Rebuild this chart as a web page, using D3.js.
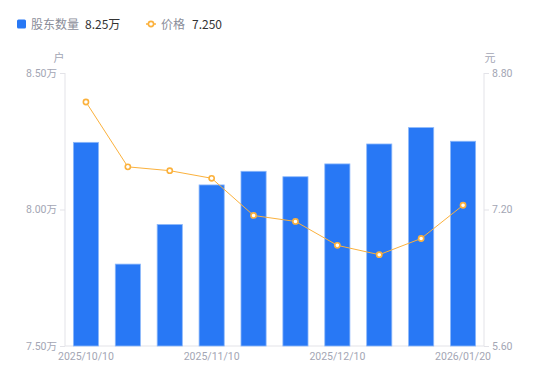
<!DOCTYPE html>
<html><head><meta charset="utf-8">
<script src="https://cdn.jsdelivr.net/npm/d3@7"></script>
<style>body{margin:0;background:#fff;}svg{display:block;font-family:"Noto Sans CJK SC","Noto Sans",sans-serif;}</style>
</head><body><svg id="c" width="550" height="381"></svg>
<script>
const categories = ["2025/10/10","2025/10/20","2025/10/31","2025/11/10","2025/11/20","2025/11/30","2025/12/10","2025/12/20","2025/12/31","2026/01/20"];
const holders = [8.246, 7.80, 7.945, 8.09, 8.14, 8.12, 8.167, 8.24, 8.30, 8.25];
const prices = [8.46, 7.70, 7.655, 7.566, 7.13, 7.06, 6.78, 6.67, 6.86, 7.25];
const leftTicks = [7.5, 8.0, 8.5];
const rightTicks = [5.6, 7.2, 8.8];
const xTickLabels = ["2025/10/10","2025/11/10","2025/12/10","2026/01/20"];

const svg = d3.select("#c");
const L = 65, R = 484, T = 73, B = 346;
const x = d3.scaleBand().domain(categories).range([L, R]).paddingInner(0.4).paddingOuter(0.2);
const yL = d3.scaleLinear().domain([7.5, 8.5]).range([B, T]);
const yR = d3.scaleLinear().domain([5.6, 8.8]).range([B, T]);
const gray = "#a3a6b4", axisCol = "#e3e3e8";

// axes
const axL = d3.axisLeft(yL).tickValues(leftTicks).tickSize(5).tickPadding(3).tickFormat(d => d3.format(".2f")(d) + "万");
const gL = svg.append("g").attr("transform", `translate(${L},0)`).call(axL);
const axR = d3.axisRight(yR).tickValues(rightTicks).tickSize(5).tickPadding(3).tickFormat(d3.format(".2f"));
const gR = svg.append("g").attr("transform", `translate(${R},0)`).call(axR);
[gL, gR].forEach(g => {
  g.select(".domain").attr("stroke", axisCol).attr("d", g === gL ? `M0,${T}V${B}` : `M0,${T}V${B}`);
  g.selectAll(".tick line").attr("stroke", axisCol);
  g.selectAll(".tick text").attr("fill", gray).style("font-size", "10.5px").style("font-family", "Roboto, 'Noto Sans CJK SC', sans-serif");
});
// bottom axis line
svg.append("line").attr("x1", L).attr("x2", R).attr("y1", B).attr("y2", B).attr("stroke", axisCol);

// x labels
const xAx = d3.axisBottom(x).tickValues(xTickLabels).tickSize(0).tickPadding(7);
const gX = svg.append("g").attr("transform", `translate(0,${B})`).call(xAx);
gX.select(".domain").remove();
gX.selectAll(".tick text").attr("fill", gray).style("font-size", "10.5px").style("font-family", "Roboto, sans-serif");

// unit labels
svg.append("text").attr("x", 59).attr("y", 62).attr("text-anchor", "middle").attr("fill", gray).style("font-size", "11px").text("户");
svg.append("text").attr("x", 490).attr("y", 62).attr("text-anchor", "middle").attr("fill", gray).style("font-size", "11px").text("元");

// bars
svg.append("g").selectAll("rect").data(holders).join("rect")
  .attr("x", (d, i) => x(categories[i]))
  .attr("y", d => yL(d))
  .attr("width", x.bandwidth())
  .attr("height", d => B - yL(d))
  .attr("fill", "#2878f5")
  .attr("stroke", "#8db8fa").attr("stroke-width", 0.8);

// line
const orange = "#fbb13c";
const line = d3.line().x((d, i) => x(categories[i]) + x.bandwidth() / 2).y(d => yR(d));
svg.append("path").datum(prices).attr("d", line).attr("fill", "none").attr("stroke", orange).attr("stroke-width", 1);
svg.append("g").selectAll("circle").data(prices).join("circle")
  .attr("cx", (d, i) => x(categories[i]) + x.bandwidth() / 2)
  .attr("cy", d => yR(d)).attr("r", 2.6)
  .attr("fill", "#fff").attr("stroke", orange).attr("stroke-width", 1.6);

// legend
const lg = svg.append("g");
lg.append("rect").attr("x", 17).attr("y", 19.5).attr("width", 9).attr("height", 9).attr("rx", 1.5).attr("fill", "#2878f5");
lg.append("text").attr("x", 31).attr("y", 28.5).attr("fill", "#8a8d99").style("font-size", "12px").text("股东数量");
lg.append("text").attr("x", 85).attr("y", 28.5).attr("fill", "#333").style("font-size", "12px").text(d3.format(".2f")(holders[holders.length-1]) + "万");
lg.append("line").attr("x1", 146).attr("x2", 156).attr("y1", 24).attr("y2", 24).attr("stroke", orange).attr("stroke-width", 1.5);
lg.append("circle").attr("cx", 151).attr("cy", 24).attr("r", 2.6).attr("fill", "#fff").attr("stroke", orange).attr("stroke-width", 1.6);
lg.append("text").attr("x", 161).attr("y", 28.5).attr("fill", "#8a8d99").style("font-size", "12px").text("价格");
lg.append("text").attr("x", 192).attr("y", 28.5).attr("fill", "#333").style("font-size", "12px").text(d3.format(".3f")(prices[prices.length-1]));
</script></body></html>
